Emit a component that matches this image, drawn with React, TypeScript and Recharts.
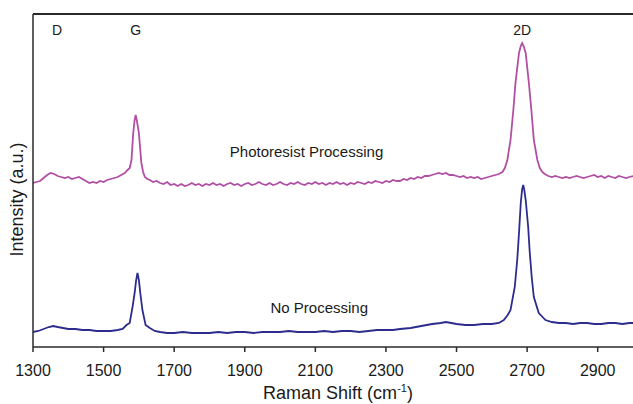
import React from "react";
import { LineChart, Line, XAxis, YAxis, ReferenceDot, ReferenceLine, Label } from "recharts";

const xTicks = [1300, 1500, 1700, 1900, 2100, 2300, 2500, 2700, 2900];

const pinkShift = [
  1300, 1310, 1320, 1330, 1340, 1350, 1360, 1370, 1380, 1390, 1400, 1410, 1420, 1430, 1440, 1450, 1460, 1470, 1480, 1490,
  1500, 1510, 1520, 1530, 1540, 1550, 1560, 1568, 1574, 1579, 1584, 1588, 1591, 1595, 1600, 1607, 1612, 1617, 1624, 1631,
  1640, 1650, 1660, 1670, 1680, 1690, 1700, 1710, 1720, 1730, 1740, 1750, 1760, 1770, 1780, 1790, 1800, 1810, 1820, 1830,
  1840, 1850, 1860, 1870, 1880, 1890, 1900, 1910, 1920, 1930, 1940, 1950, 1960, 1970, 1980, 1990, 2000, 2010, 2020, 2030,
  2040, 2050, 2060, 2070, 2080, 2090, 2100, 2110, 2120, 2130, 2140, 2150, 2160, 2170, 2180, 2190, 2200, 2210, 2220, 2230,
  2240, 2250, 2260, 2270, 2280, 2290, 2300, 2310, 2320, 2330, 2340, 2350, 2360, 2370, 2380, 2390, 2400, 2410, 2420, 2430,
  2440, 2450, 2460, 2470, 2480, 2490, 2500, 2510, 2520, 2530, 2540, 2550, 2560, 2570, 2580, 2590, 2600, 2610, 2620, 2630,
  2637, 2644, 2653, 2661, 2667, 2677, 2682, 2686, 2690, 2696, 2705, 2712, 2719, 2729, 2736, 2743, 2750, 2760, 2770, 2780,
  2790, 2800, 2810, 2820, 2830, 2840, 2850, 2860, 2870, 2880, 2890, 2900, 2910, 2920, 2930, 2940, 2950, 2960, 2970, 2980,
  2990, 3000,
];
const pinkIntensity = [
  164, 165, 166, 169, 172, 174, 173, 171, 170, 169, 170, 168, 169, 170, 168, 166, 164, 165, 164, 166,
  165, 167, 168, 169, 170, 172, 174, 177, 179, 187, 214, 227, 232, 225, 214, 184, 175, 170, 168, 167,
  165, 166, 164, 163, 165, 162, 163, 161, 163, 161, 162, 164, 162, 163, 161, 163, 162, 164, 162, 163,
  161, 163, 164, 162, 163, 161, 163, 164, 162, 163, 165, 163, 162, 164, 162, 163, 165, 163, 162, 164,
  163, 165, 163, 162, 164, 163, 165, 163, 164, 162, 164, 163, 165, 163, 164, 162, 164, 163, 165, 164,
  163, 165, 164, 166, 165, 164, 166, 165, 167, 166, 166, 168, 167, 169, 168, 170, 169, 171, 171, 172,
  173, 174, 173, 174, 172, 172, 171, 170, 171, 169, 170, 169, 170, 168, 169, 170, 171, 172, 173, 175,
  179, 187, 207, 237, 264, 294, 301, 304, 301, 294, 264, 237, 207, 187, 179, 175, 173, 171, 170, 171,
  170, 169, 170, 169, 170, 171, 170, 169, 170, 171, 172, 170, 171, 169, 171, 170, 169, 171, 170, 169,
  170, 171,
];

const blueShift = [
  1300, 1315, 1330, 1345, 1357, 1370, 1385, 1400, 1420, 1440, 1460, 1480, 1500, 1520, 1540, 1554, 1565, 1574, 1582, 1588,
  1592, 1596, 1600, 1604, 1610, 1619, 1631, 1645, 1660, 1680, 1700, 1725, 1750, 1775, 1800, 1825, 1850, 1875, 1900, 1925,
  1950, 1975, 2000, 2025, 2050, 2075, 2100, 2125, 2150, 2175, 2200, 2225, 2250, 2275, 2300, 2320, 2340, 2370, 2400, 2431,
  2455, 2470, 2485, 2500, 2525, 2550, 2575, 2600, 2620, 2634, 2645, 2653, 2665, 2672, 2677, 2682, 2686, 2689, 2692, 2696,
  2703, 2707, 2713, 2719, 2733, 2752, 2770, 2790, 2810, 2830, 2850, 2870, 2890, 2910, 2930, 2950, 2970, 2990, 3000,
];
const blueIntensity = [
  15, 16, 18, 20, 21, 20, 19, 18, 18, 17, 17, 16, 16, 16, 17, 18, 22, 24, 40, 54,
  66, 74, 67, 54, 37, 22, 19, 16, 15, 14, 14, 15, 14, 14, 14, 15, 14, 15, 15, 14,
  15, 15, 15, 16, 15, 15, 15, 16, 15, 16, 16, 15, 16, 17, 17, 17, 18, 19, 21, 23,
  24, 25, 24, 23, 22, 22, 23, 23, 24, 27, 32, 37, 60, 87, 114, 144, 158, 162, 157, 147,
  120, 97, 70, 50, 34, 27, 25, 24, 24, 23, 24, 24, 23, 23, 24, 24, 23, 24, 24,
];

const pinkData = pinkShift.map((s, i) => ({ shift: s, intensity: pinkIntensity[i] }));
const blueData = blueShift.map((s, i) => ({ shift: s, intensity: blueIntensity[i] }));

const peakLabels = [
  { name: "D", shift: 1368, level: 317 },
  { name: "G", shift: 1591, level: 317 },
  { name: "2D", shift: 2686, level: 317 },
];
const seriesLabels = [
  { name: "Photoresist Processing", shift: 2075, level: 195 },
  { name: "No Processing", shift: 2111, level: 39 },
];

const FONT = '"Liberation Sans", Arial, Helvetica, sans-serif';
const PINK = "#b24ea4";
const BLUE = "#2c2c8e";
const AXIS = "#2a2a2a";

const CHART_W = 633;
const CHART_H = 404;
const Y_MAX = 333;

const YTitle = (props: any) => {
  const vb = props.viewBox || {};
  const cx = vb.x + vb.width / 2;
  const cy = vb.y + vb.height / 2 + 19;
  return (
    <text
      x={cx}
      y={cy}
      transform={`rotate(-90, ${cx}, ${cy})`}
      textAnchor="middle"
      dominantBaseline="central"
      fontSize={18}
      fontFamily={FONT}
      fill="#1a1a1a"
    >
      Intensity (a.u.)
    </text>
  );
};

const XTitle = (props: any) => {
  const vb = props.viewBox || {};
  const cx = vb.x + vb.width / 2 + 5;
  const y = vb.y + 52;
  return (
    <text x={cx} y={y} textAnchor="middle" fontSize={18} fontFamily={FONT} fill="#1a1a1a">
      Raman Shift (cm
      <tspan dy={-7} fontSize={11}>-1</tspan>
      <tspan dy={7}>)</tspan>
    </text>
  );
};

export default function App() {
  return (
    <div style={{ position: "absolute", left: 0, top: 0, width: CHART_W, height: CHART_H, background: "#fff" }}>
      <LineChart width={CHART_W} height={CHART_H} margin={{ top: 14, right: 0, left: 0, bottom: 0 }}>
        <XAxis
          dataKey="shift"
          type="number"
          domain={[1300, 3000]}
          ticks={xTicks}
          allowDataOverflow
          height={57}
          tickSize={5}
          tickMargin={13}
          stroke={AXIS}
          strokeWidth={1.5}
          tick={{ fontSize: 16, fontFamily: FONT, fill: "#1a1a1a" }}
        >
          <Label content={XTitle} />
        </XAxis>
        <YAxis
          type="number"
          domain={[0, Y_MAX]}
          width={33}
          tick={false}
          tickLine={false}
          stroke={AXIS}
          strokeWidth={1.5}
          allowDataOverflow
        >
          <Label content={YTitle} />
        </YAxis>
        <ReferenceLine y={Y_MAX} stroke={AXIS} strokeWidth={2} ifOverflow="visible" />
        <Line
          data={pinkData}
          dataKey="intensity"
          type="linear"
          stroke={PINK}
          strokeWidth={1.8}
          dot={false}
          isAnimationActive={false}
        />
        <Line
          data={blueData}
          dataKey="intensity"
          type="linear"
          stroke={BLUE}
          strokeWidth={1.8}
          dot={false}
          isAnimationActive={false}
        />
        {peakLabels.map((p) => (
          <ReferenceDot
            key={p.name}
            x={p.shift}
            y={p.level}
            r={0}
            fill="none"
            stroke="none"
            label={{ value: p.name, position: "center", fontSize: 14, fontFamily: FONT, fill: "#1a1a1a" }}
          />
        ))}
        {seriesLabels.map((p) => (
          <ReferenceDot
            key={p.name}
            x={p.shift}
            y={p.level}
            r={0}
            fill="none"
            stroke="none"
            label={{ value: p.name, position: "center", fontSize: 15, fontFamily: FONT, fill: "#1a1a1a" }}
          />
        ))}
      </LineChart>
    </div>
  );
}
